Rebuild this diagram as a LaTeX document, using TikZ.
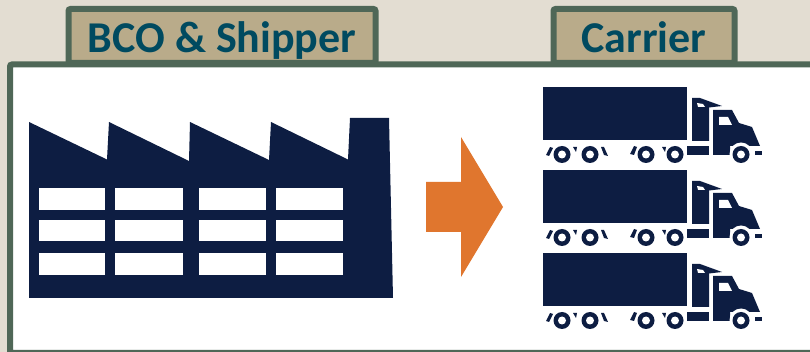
\documentclass[tikz,border=0pt]{standalone}
\usepackage{fontspec}
\setmainfont{Carlito}
\definecolor{sandbg}{HTML}{E3DDD2}
\definecolor{framegreen}{HTML}{4F6757}
\definecolor{tabtan}{HTML}{B9AB8A}
\definecolor{tabtext}{HTML}{004A60}
\definecolor{navy}{HTML}{0D1D42}
\definecolor{arroworange}{HTML}{E0762E}

\begin{document}
\begin{tikzpicture}[
        x=0.75pt, y=-0.75pt,
        tab/.style={rectangle, draw=framegreen, fill=tabtan, line width=4.5pt, rounded corners=1.5pt, anchor=base, inner sep=0pt, align=center, text=tabtext, font=\fontsize{33}{36}\selectfont\bfseries, text height=33pt, text depth=7.5pt},
        panel/.style={draw=framegreen, fill=white, line width=4.5pt, rounded corners=1.5pt},
        icon/.style={fill=navy},
        gap/.style={fill=white},
        truck/.pic={
            % Trailer
            \path[icon] (543,87) rectangle (687,140.5);
            % Sleeper and cab
            \path[icon] (692,98) -- (700,98) -- (722,106) -- (709,107.5) -- (709,141) -- (692,141) -- cycle;
            \path[icon] (713,110) -- (732,110) -- (739,123) -- (752,127) -- (760,146) -- (745,146) -- (730,146) -- (730,155) -- (713,155) -- cycle;
            \path[icon] (687,146) rectangle (709,155);
            \path[icon] (755,151) rectangle (762,155);
            \path[gap] (719,117) -- (728,117) -- (732,125) -- (719,125) -- cycle;
            \path[gap] (697,103) -- (703,104) -- (705,107) -- (698,107) -- cycle;
            % Mudguards
            \path[icon] (546,155) -- (550,147) -- (553,148) -- (549,156) -- cycle;
            \path[icon] (573,147) -- (577,147) -- (576,152) -- cycle;
            \path[icon] (601,147) -- (604,147) -- (608,156) -- (604,155) -- cycle;
            \path[icon] (630,154) -- (634,146) -- (637,147) -- (634,155) -- cycle;
            \path[icon] (662,147) -- (666,147) -- (665,152) -- cycle;
            % Wheels
            \path[gap] (741,154) circle (11.5);
            \foreach \wx in {562,590,646,675,741} {
                \path[icon] (\wx,154.5) circle (8.5);
                \path[gap] (\wx,154.5) circle (4);
            }
        }
    ]
        \useasboundingbox (0,0) rectangle (810,352);
        \fill[sandbg] (0,0) rectangle (810,352);

        % Tabs behind the panel
        \node[tab, minimum width=230.25pt] (shipper) at (222,53) {BCO \& Shipper};
        \node[tab, minimum width=135.75pt] (carrier) at (644,53) {Carrier};
        \draw[panel] (10,64.5) rectangle (816,353);

        % Factory
        \path[icon] (29,122) -- (107,159.5) -- (109,122) -- (189,161) -- (190,122) -- (269,160) -- (271,122) -- (348,159.5) -- (350,118) -- (389,118) -- (393,298) -- (29,298) -- cycle;
        \foreach \xa/\xb in {39/105, 115/183, 199/266, 276/343} {
            \foreach \ya/\yb in {188/210, 220/241, 253/275} {
                \path[gap] (\xa,\ya) rectangle (\xb,\yb);
            }
        }

        % Arrow
        \fill[arroworange] (426,182) -- (461,182) -- (461,137) -- (503,207) -- (461,277) -- (461,232) -- (426,232) -- cycle;

        % Trucks
        \foreach \dy in {0, 83, 166} {
            \pic at (0,\dy) {truck};
        }
    \end{tikzpicture}
\end{document}
